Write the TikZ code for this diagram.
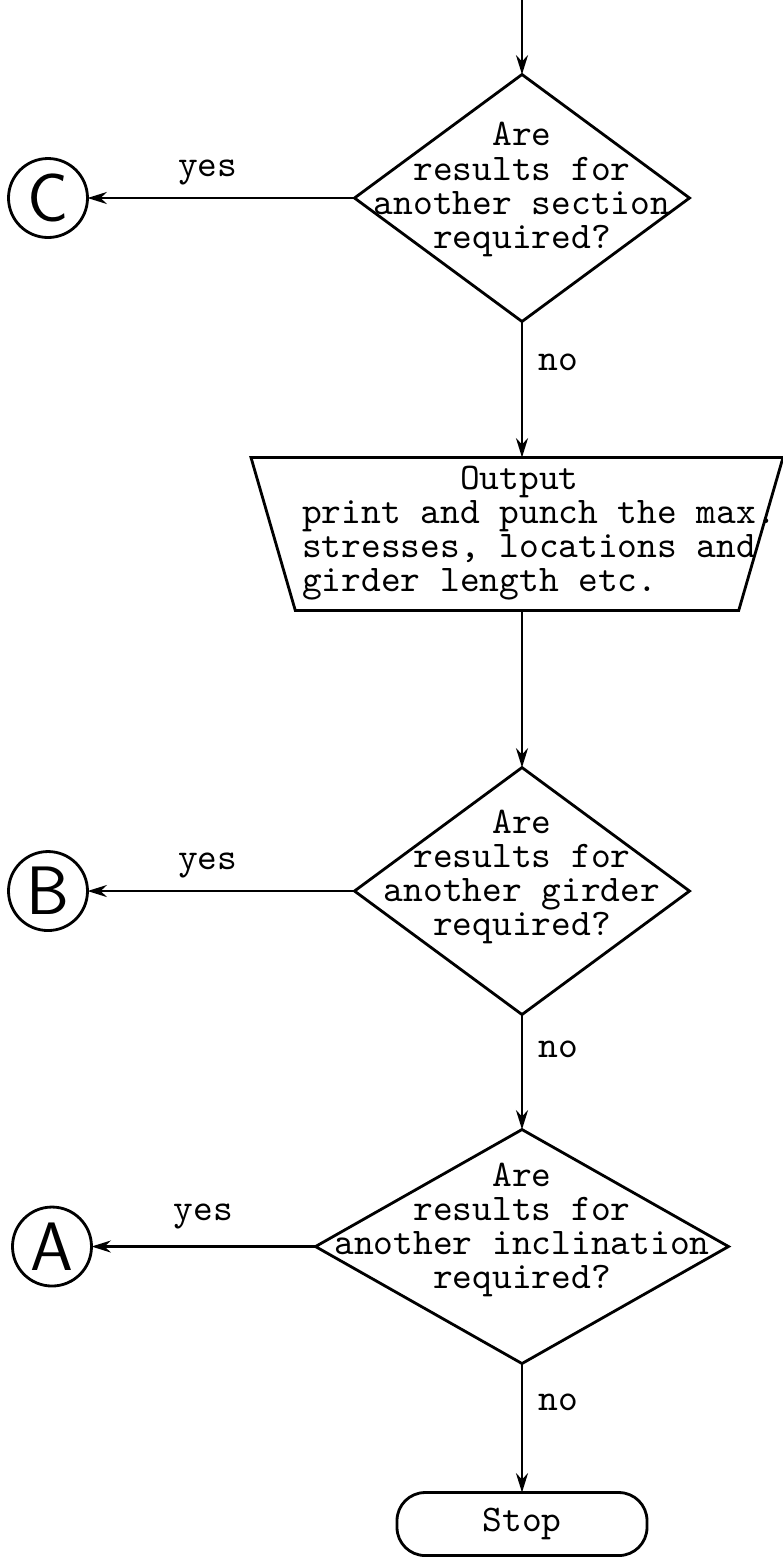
\documentclass[tikz,border=0pt]{standalone}
\usepackage{tikz}
\usetikzlibrary{arrows.meta,positioning,shapes.geometric}
\newcommand{\flowtext}[2]{\makebox[0pt]{\begin{tabular}{@{}#1@{}}#2\end{tabular}}}

\begin{document}
\begin{tikzpicture}[
  txt/.style={font=\fontsize{10.7}{9.7}\selectfont\ttfamily},
  test/.style={diamond, draw, line width=0.8pt, inner sep=0pt, outer sep=0pt, txt,
               minimum width=3.35cm, minimum height=2.47cm},
  outbox/.style={trapezium, draw, line width=0.8pt, inner sep=0pt, outer sep=0pt, txt,
                 trapezium left angle=72, trapezium right angle=72,
                 shape border rotate=180, trapezium stretches body,
                 minimum width=5.32cm, minimum height=1.53cm},
  term/.style={rectangle, draw, rounded corners=8pt, line width=0.8pt, outer sep=0pt, txt,
               minimum width=2.5cm, minimum height=0.63cm},
  conn/.style={circle, draw, line width=0.8pt, inner sep=0pt, outer sep=0pt, minimum size=0.79cm,
               font=\sffamily\fontsize{19.5}{19.5}\selectfont},
  lab/.style={txt, inner sep=0pt},
  arr/.style={-{Stealth[length=5.5pt, width=3.4pt]}, line width=0.8pt}]
  \useasboundingbox (0,0) rectangle (7.83,-15.58);
  \coordinate (in) at (5.22,0);
  \node[test] (sec) at (5.22,-1.98) {\flowtext{c}{Are\\results for\\another section\\required?\\[4.4pt]}};
  \node[conn, left=2.67cm of sec] (C) {C};
  \node[outbox, below=1.36cm of sec, xshift=-0.05cm] (out)
    {\makebox[0pt]{\hspace{0.44cm}\begin{tabular}{@{}l@{}}\hspace*{4.2em}Output\\print and punch the max.\\stresses, locations and\\girder length etc.\end{tabular}}};
  \node[test, below=1.57cm of out, xshift=0.05cm] (gird) {\flowtext{c}{Are\\results for\\another girder\\required?\\[7.4pt]}};
  \node[conn, left=2.67cm of gird] (B) {B};
  \node[test, below=1.15cm of gird, minimum width=4.13cm, minimum height=2.34cm] (incl)
    {\flowtext{c}{Are\\results for\\another inclination\\required?\\[9pt]}};
  \node[conn, left=2.24cm of incl] (A) {A};
  \node[term, below=1.29cm of incl] (stop) {Stop};
  \draw[arr] (in) -- (sec);
  \draw[arr] (sec) -- node[lab, above=0.12cm, pos=0.55] (yes1) {yes} (C);
  \draw[arr] (sec.south) -- node[lab, right=0.15cm, pos=0.3] (no1) {no} (sec.south |- out.north);
  \draw[arr] (gird.north |- out.south) -- (gird.north);
  \draw[arr] (gird) -- node[lab, above=0.12cm, pos=0.55] (yes2) {yes} (B);
  \draw[arr] (gird) -- node[lab, right=0.15cm, pos=0.3] (no2) {no} (incl);
  \draw[arr] (incl) -- node[lab, above=0.16cm, pos=0.5] (yes3) {yes} (A);
  \draw[arr] (incl) -- node[lab, right=0.15cm, pos=0.3] (no3) {no} (stop);
\end{tikzpicture}
\end{document}
